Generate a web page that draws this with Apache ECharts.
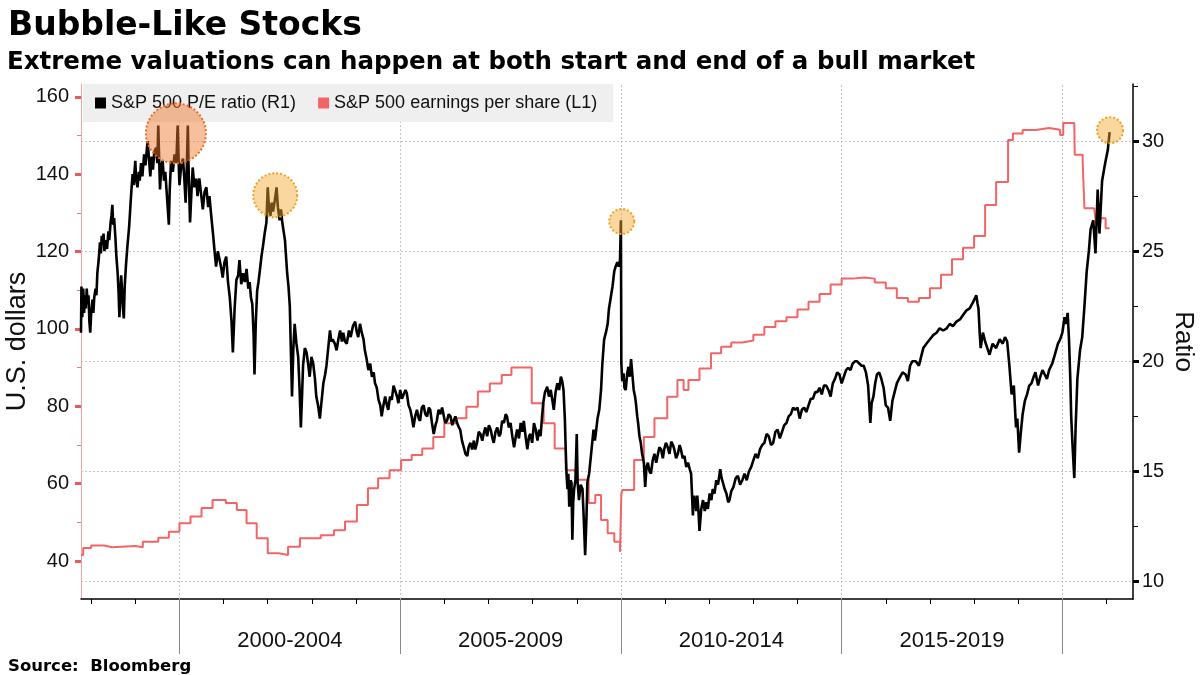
<!DOCTYPE html>
<html>
<head>
<meta charset="utf-8">
<script src="https://cdn.jsdelivr.net/npm/echarts@6/dist/echarts.min.js"></script>
<style>
html,body{margin:0;padding:0;background:#fff;}
#chart{width:1200px;height:675px;}
</style>
</head>
<body>
<div id="chart"></div>
<script>
// ---- Data (decimal year, value) ----
const titleText = 'Bubble-Like Stocks';
const subtitleText = 'Extreme valuations can happen at both start and end of a bull market';
const sourceText = 'Source:  Bloomberg';
const seriesNames = ['S&P 500 P/E ratio (R1)', 'S&P 500 earnings per share (L1)'];

const periodLabels = ['2000-2004', '2005-2009', '2010-2014', '2015-2019'];
const periodLabelAt = [2002.5, 2007.5, 2012.5, 2017.5];
const periodBounds = [2000, 2005, 2010, 2015, 2020];
const yearTicks = [1998,1999,2000,2001,2002,2003,2004,2005,2006,2007,2008,2009,2010,2011,2012,2013,2014,2015,2016,2017,2018,2019,2020,2021];

const leftTickLabels = [40, 60, 80, 100, 120, 140, 160];
const leftMinorTicks = [40, 50, 60, 70, 80, 90, 100, 110, 120, 130, 140, 150, 160];
const rightTickLabels = [10, 15, 20, 25, 30];
const rightMinorTicks = [10, 12.5, 15, 17.5, 20, 22.5, 25, 27.5, 30, 32.5];

// S&P 500 P/E ratio (right axis)
const peRatio = [
[1997.77,21.3],[1997.78,23.4],[1997.80,22.0],[1997.82,23.3],[1997.84,22.2],[1997.86,23.0],[1997.88,22.4],[1997.90,23.3],
[1997.92,22.6],[1997.94,23.0],[1997.96,21.8],[1997.98,21.3],[1998.00,22.2],[1998.03,22.8],[1998.05,22.2],[1998.07,22.9],
[1998.10,23.3],[1998.12,23.0],[1998.14,24.0],[1998.17,24.6],[1998.20,25.4],[1998.22,24.9],[1998.24,25.7],[1998.26,25.3],
[1998.28,25.8],[1998.30,25.0],[1998.33,25.5],[1998.36,25.1],[1998.39,25.9],[1998.41,25.5],[1998.44,26.3],[1998.46,26.6],
[1998.48,27.1],[1998.50,26.2],[1998.52,26.5],[1998.55,25.6],[1998.57,24.8],[1998.60,24.0],[1998.62,23.2],[1998.64,22.0],
[1998.66,23.0],[1998.68,23.9],[1998.70,23.2],[1998.72,22.4],[1998.74,21.95],[1998.76,23.4],[1998.79,24.4],[1998.82,25.2],
[1998.86,26.1],[1998.90,27.4],[1998.92,28.0],[1998.94,28.5],[1998.96,28.0],[1999.00,29.1],[1999.02,28.2],[1999.05,27.9],
[1999.08,28.6],[1999.10,28.2],[1999.13,29.0],[1999.16,28.4],[1999.20,29.4],[1999.23,28.9],[1999.26,29.6],[1999.28,30.0],
[1999.31,29.2],[1999.34,28.4],[1999.37,29.3],[1999.40,28.7],[1999.43,29.5],[1999.47,29.7],[1999.50,29.0],[1999.52,30.7],
[1999.54,29.2],[1999.56,27.8],[1999.59,28.9],[1999.62,29.1],[1999.65,28.2],[1999.68,28.6],[1999.72,27.4],[1999.76,26.2],
[1999.78,27.8],[1999.81,29.1],[1999.85,28.6],[1999.89,29.4],[1999.93,29.0],[1999.96,30.7],[1999.98,29.2],[2000.00,28.0],
[2000.04,28.9],[2000.08,29.2],[2000.11,28.3],[2000.14,27.2],[2000.17,29.0],[2000.19,30.7],[2000.21,28.5],[2000.24,26.3],
[2000.27,27.6],[2000.30,28.8],[2000.34,27.9],[2000.38,28.3],[2000.41,27.5],[2000.45,28.3],[2000.49,27.6],[2000.53,26.9],
[2000.57,27.7],[2000.61,27.9],[2000.65,27.0],[2000.68,27.5],[2000.72,26.6],[2000.76,25.8],[2000.80,24.9],[2000.83,24.3],
[2000.87,25.0],[2000.91,24.6],[2000.95,24.2],[2000.98,23.8],[2001.02,24.5],[2001.06,24.75],[2001.10,23.6],[2001.14,22.9],
[2001.18,21.8],[2001.21,20.4],[2001.25,22.4],[2001.29,23.7],[2001.33,23.9],[2001.36,24.6],[2001.40,23.5],[2001.44,24.0],
[2001.48,23.6],[2001.52,24.2],[2001.56,23.3],[2001.59,23.6],[2001.62,22.9],[2001.65,22.6],[2001.68,21.2],[2001.70,19.4],
[2001.73,21.8],[2001.76,23.2],[2001.79,23.6],[2001.82,24.1],[2001.86,24.8],[2001.89,25.2],[2001.93,25.8],[2001.97,26.3],
[2002.00,27.9],[2002.03,26.9],[2002.06,26.6],[2002.09,27.2],[2002.12,26.8],[2002.16,27.3],[2002.20,27.9],[2002.23,27.0],
[2002.27,26.4],[2002.30,26.9],[2002.33,26.3],[2002.36,25.9],[2002.39,25.5],[2002.42,24.6],[2002.44,24.0],[2002.47,23.4],
[2002.50,22.5],[2002.53,20.0],[2002.55,18.4],[2002.58,20.6],[2002.61,21.7],[2002.65,20.8],[2002.69,20.2],[2002.72,18.8],
[2002.75,17.0],[2002.78,18.6],[2002.80,19.8],[2002.84,20.6],[2002.88,20.4],[2002.92,19.8],[2002.95,19.3],[2002.99,20.2],
[2003.03,19.9],[2003.07,19.2],[2003.10,18.4],[2003.14,18.0],[2003.18,17.4],[2003.22,18.2],[2003.26,19.0],[2003.30,19.4],
[2003.33,19.8],[2003.37,20.6],[2003.41,21.4],[2003.44,20.9],[2003.47,21.0],[2003.52,20.8],[2003.56,20.5],[2003.60,21.0],
[2003.64,21.4],[2003.68,20.9],[2003.71,21.3],[2003.75,20.9],[2003.79,20.8],[2003.84,21.4],[2003.88,21.1],[2003.93,21.6],
[2003.98,21.8],[2004.02,21.3],[2004.05,21.1],[2004.09,21.7],[2004.13,21.3],[2004.17,21.0],[2004.20,20.5],[2004.24,20.1],
[2004.28,19.6],[2004.32,19.9],[2004.36,19.3],[2004.40,19.5],[2004.43,19.0],[2004.47,18.8],[2004.51,18.25],[2004.55,18.0],
[2004.58,17.5],[2004.62,18.0],[2004.66,18.4],[2004.70,18.0],[2004.73,17.8],[2004.77,18.4],[2004.81,18.25],[2004.85,18.9],
[2004.89,18.85],[2004.93,18.4],[2004.96,18.1],[2005.00,18.7],[2005.04,18.3],[2005.08,18.25],[2005.12,18.7],[2005.15,18.55],
[2005.19,18.0],[2005.23,17.8],[2005.27,17.4],[2005.30,17.0],[2005.34,17.5],[2005.38,17.8],[2005.42,17.4],[2005.45,17.3],
[2005.49,17.9],[2005.53,18.0],[2005.57,17.6],[2005.61,17.5],[2005.65,17.9],[2005.68,17.8],[2005.72,17.2],[2005.76,16.7],
[2005.80,17.1],[2005.83,17.3],[2005.87,17.8],[2005.91,17.6],[2005.95,17.9],[2005.98,17.6],[2006.02,17.2],[2006.06,17.3],
[2006.10,17.6],[2006.14,17.5],[2006.18,17.1],[2006.21,17.3],[2006.25,17.5],[2006.29,17.2],[2006.33,17.0],[2006.36,16.9],
[2006.40,16.4],[2006.44,16.1],[2006.48,15.8],[2006.52,15.7],[2006.55,16.1],[2006.59,16.3],[2006.63,16.0],[2006.67,16.4],
[2006.70,16.0],[2006.74,16.3],[2006.78,16.8],[2006.82,16.7],[2006.86,16.4],[2006.89,16.7],[2006.93,17.0],[2006.97,16.6],
[2007.01,17.1],[2007.05,16.9],[2007.09,16.5],[2007.12,16.3],[2007.16,16.8],[2007.20,17.0],[2007.24,16.6],[2007.27,16.7],
[2007.31,17.3],[2007.35,17.2],[2007.39,17.6],[2007.42,17.5],[2007.46,17.0],[2007.50,17.2],[2007.54,16.6],[2007.58,16.1],
[2007.62,16.6],[2007.65,16.9],[2007.69,16.5],[2007.73,17.2],[2007.77,16.8],[2007.80,17.3],[2007.84,16.6],[2007.88,16.0],
[2007.92,16.6],[2007.95,16.7],[2007.99,16.3],[2008.03,17.2],[2008.07,16.9],[2008.11,16.4],[2008.15,16.9],[2008.18,16.6],
[2008.21,17.4],[2008.24,18.1],[2008.28,18.6],[2008.33,18.85],[2008.37,18.4],[2008.41,18.7],[2008.45,18.2],[2008.48,17.8],
[2008.52,18.6],[2008.56,19.0],[2008.60,18.7],[2008.64,19.3],[2008.67,19.1],[2008.70,18.7],[2008.73,17.4],[2008.75,16.0],
[2008.77,14.8],[2008.79,14.2],[2008.81,14.9],[2008.83,13.4],[2008.86,14.6],[2008.88,14.5],[2008.90,11.9],[2008.92,13.6],
[2008.94,14.2],[2008.97,14.6],[2009.00,16.7],[2009.02,14.5],[2009.05,13.7],[2009.09,14.4],[2009.13,14.2],[2009.16,12.8],
[2009.19,11.2],[2009.22,12.9],[2009.24,14.5],[2009.28,14.9],[2009.32,15.7],[2009.35,16.3],[2009.38,16.9],[2009.41,16.4],
[2009.43,16.7],[2009.47,17.4],[2009.51,17.8],[2009.55,18.7],[2009.58,19.9],[2009.62,21.0],[2009.66,21.3],[2009.70,21.7],
[2009.73,22.4],[2009.77,22.9],[2009.81,23.4],[2009.85,24.1],[2009.88,24.3],[2009.92,24.5],[2009.95,24.3],[2009.98,24.6],
[2010.00,26.4],[2010.01,19.9],[2010.03,19.1],[2010.06,19.45],[2010.08,18.8],[2010.11,18.7],[2010.14,19.4],[2010.17,19.75],
[2010.20,19.3],[2010.23,20.1],[2010.26,19.4],[2010.29,18.7],[2010.32,18.4],[2010.34,18.1],[2010.37,17.5],[2010.39,17.2],
[2010.42,16.6],[2010.45,16.3],[2010.48,15.8],[2010.52,15.4],[2010.55,14.3],[2010.58,15.2],[2010.61,15.4],[2010.65,15.0],
[2010.68,14.9],[2010.72,15.5],[2010.76,15.8],[2010.80,15.4],[2010.83,15.7],[2010.87,16.1],[2010.91,16.0],[2010.95,15.6],
[2010.98,16.0],[2011.02,16.3],[2011.06,16.1],[2011.10,15.8],[2011.14,16.35],[2011.18,16.2],[2011.21,16.0],[2011.25,15.6],
[2011.29,15.8],[2011.33,16.2],[2011.36,16.0],[2011.40,15.6],[2011.44,15.7],[2011.48,15.2],[2011.52,15.4],[2011.56,15.1],
[2011.59,14.9],[2011.61,14.0],[2011.63,13.0],[2011.66,13.9],[2011.68,13.6],[2011.71,13.2],[2011.73,13.9],[2011.76,13.1],
[2011.78,12.3],[2011.82,13.3],[2011.86,13.7],[2011.90,13.2],[2011.93,13.6],[2011.97,13.3],[2012.01,14.0],[2012.05,13.7],
[2012.08,14.2],[2012.12,14.0],[2012.16,14.6],[2012.20,14.4],[2012.25,15.1],[2012.28,14.7],[2012.31,14.5],[2012.35,14.2],
[2012.39,14.0],[2012.43,13.6],[2012.46,13.7],[2012.50,14.1],[2012.55,14.3],[2012.60,14.7],[2012.65,14.8],[2012.70,14.4],
[2012.75,14.6],[2012.80,14.9],[2012.85,14.6],[2012.90,15.0],[2012.95,15.2],[2013.00,15.5],[2013.05,15.8],[2013.10,15.6],
[2013.15,16.0],[2013.20,16.2],[2013.25,16.3],[2013.30,16.7],[2013.35,16.6],[2013.40,16.2],[2013.45,16.3],[2013.50,16.8],
[2013.55,16.9],[2013.60,16.5],[2013.65,16.8],[2013.70,17.1],[2013.75,17.2],[2013.80,17.5],[2013.85,17.6],[2013.90,17.9],
[2013.95,17.8],[2014.00,17.9],[2014.05,17.4],[2014.10,17.8],[2014.15,17.9],[2014.20,17.7],[2014.25,18.0],[2014.30,18.3],
[2014.35,18.3],[2014.40,18.6],[2014.45,18.6],[2014.50,18.8],[2014.55,18.5],[2014.60,18.9],[2014.65,18.9],[2014.70,18.7],
[2014.75,18.4],[2014.80,19.0],[2014.85,19.2],[2014.90,19.5],[2014.95,19.4],[2015.00,19.0],[2015.05,19.3],[2015.10,19.6],
[2015.15,19.7],[2015.20,19.6],[2015.25,19.9],[2015.30,20.0],[2015.35,20.0],[2015.40,19.9],[2015.45,19.8],[2015.50,19.8],
[2015.55,19.5],[2015.60,18.9],[2015.65,17.2],[2015.68,18.1],[2015.72,18.4],[2015.76,19.0],[2015.80,19.4],[2015.85,19.5],
[2015.90,19.2],[2015.95,18.8],[2016.00,18.0],[2016.05,17.9],[2016.10,17.3],[2016.15,18.2],[2016.20,18.6],[2016.25,19.0],
[2016.30,19.2],[2016.38,19.5],[2016.45,19.4],[2016.50,19.1],[2016.55,19.8],[2016.60,20.0],[2016.68,20.0],[2016.75,19.8],
[2016.80,20.2],[2016.85,20.6],[2016.92,20.8],[2017.00,21.0],[2017.08,21.2],[2017.15,21.3],[2017.22,21.5],[2017.30,21.4],
[2017.38,21.5],[2017.45,21.7],[2017.52,21.6],[2017.60,21.8],[2017.68,21.9],[2017.75,22.1],[2017.82,22.3],[2017.90,22.4],
[2017.98,22.7],[2018.05,23.0],[2018.08,22.6],[2018.10,22.4],[2018.13,21.2],[2018.15,20.6],[2018.20,21.3],[2018.25,20.9],
[2018.30,20.6],[2018.35,20.3],[2018.42,20.8],[2018.50,20.6],[2018.58,21.0],[2018.65,20.8],[2018.70,21.1],[2018.75,20.9],
[2018.80,19.8],[2018.85,18.5],[2018.90,18.9],[2018.95,17.0],[2018.98,17.4],[2019.02,15.85],[2019.06,16.8],[2019.10,17.6],
[2019.15,18.2],[2019.20,18.5],[2019.25,18.9],[2019.30,19.0],[2019.35,19.3],[2019.39,19.5],[2019.42,19.2],[2019.45,18.9],
[2019.50,19.3],[2019.55,19.6],[2019.60,19.4],[2019.65,19.2],[2019.70,19.6],[2019.77,19.9],[2019.83,20.3],[2019.90,20.8],
[2019.95,21.0],[2020.00,21.3],[2020.05,22.0],[2020.08,21.7],[2020.12,22.2],[2020.15,21.0],[2020.18,19.2],[2020.20,17.5],
[2020.23,16.2],[2020.27,14.7],[2020.30,17.0],[2020.34,19.2],[2020.40,20.5],[2020.45,21.1],[2020.50,22.5],[2020.55,24.05],
[2020.60,25.0],[2020.64,26.0],[2020.70,26.4],[2020.75,24.9],[2020.80,27.8],[2020.84,25.8],[2020.90,28.2],[2020.97,29.0],
[2021.03,29.6],[2021.07,30.4]
];

// S&P 500 earnings per share (left axis), value holds until the next point
const epsValues = [
[1997.77,41.6],[1997.82,43.4],[1998.00,44.0],[1998.30,43.6],[1998.47,43.9],[1999.00,43.6],[1999.17,45.0],
[1999.52,46.0],[1999.76,47.6],[2000.00,49.8],[2000.25,51.5],[2000.50,53.7],[2000.75,55.8],[2001.05,55.0],
[2001.30,53.2],[2001.52,49.8],[2001.75,45.9],[2002.00,42.0],[2002.25,41.6],[2002.46,43.7],[2002.73,45.9],
[2003.20,46.7],[2003.50,48.0],[2003.75,50.2],[2004.02,54.5],[2004.27,58.8],[2004.50,61.4],[2004.76,63.5],
[2005.02,66.1],[2005.26,67.4],[2005.50,69.1],[2005.75,72.1],[2006.00,75.6],[2006.27,76.9],[2006.50,79.9],
[2006.76,83.8],[2007.03,85.9],[2007.30,88.1],[2007.52,90.0],[2007.98,80.8],[2008.25,75.6],[2008.50,69.1],
[2008.75,63.5],[2009.00,61.0],[2009.27,55.0],[2009.42,57.1],[2009.55,50.6],[2009.70,47.2],[2009.85,45.0],
[2009.98,42.4],[2010.01,57.5],[2010.04,58.4],[2010.30,66.1],[2010.52,72.1],[2010.76,76.9],[2011.05,82.5],
[2011.28,86.8],[2011.42,84.2],[2011.53,86.8],[2011.78,89.8],[2012.04,93.7],[2012.27,95.4],[2012.50,96.5],
[2012.75,97.0],[2013.00,98.5],[2013.25,100.5],[2013.50,102.0],[2013.75,103.0],[2014.00,105.0],[2014.25,107.0],
[2014.50,109.0],[2014.75,111.5],[2015.00,113.0],[2015.25,113.3],[2015.50,113.0],[2015.75,112.0],[2016.00,110.5],
[2016.25,108.0],[2016.50,107.0],[2016.75,108.0],[2017.00,110.5],[2017.25,114.0],[2017.50,118.0],[2017.75,121.0],
[2018.00,124.0],[2018.25,132.0],[2018.50,138.0],[2018.77,148.8],[2018.88,150.5],[2019.10,151.4],[2019.40,151.9],
[2019.70,151.5],[2019.95,150.1],[2020.02,153.2],[2020.27,152.7],[2020.28,145.0],[2020.46,143.1],[2020.50,131.2],
[2020.72,130.7],[2020.76,127.4],[2020.86,128.6],[2020.98,126.0],[2021.07,126.0]
];

// Highlighted valuation peaks
const peakYears = [1999.92, 2002.17, 2010.02, 2021.08];
const peakValues = [30.35, 27.54, 26.35, 30.49];
const peakSizes = [60, 44, 25, 26];

// ---- Chart ----
const FONT = '"Liberation Sans", Arial, sans-serif';
const BOLD = '"DejaVu Sans", Verdana, sans-serif';
const chart = echarts.init(document.getElementById('chart'), null, {renderer: 'canvas'});

const xMin = 1997.77, xMax = 2021.6;

const markPts = peakYears.map((y, i) => {
  const big = i === 0;
  return {
    coord: [y, peakValues[i]],
    symbol: 'circle',
    symbolSize: peakSizes[i],
    itemStyle: {
      color: big ? 'rgba(239,120,43,0.47)' : 'rgba(245,168,45,0.46)',
      borderColor: big ? '#ee6a1f' : '#f2a021',
      borderWidth: 2,
      borderType: [2, 2]
    }
  };
});

const gridLines = rightTickLabels.map(v => ({yAxis: v}))
  .concat(periodBounds.map(v => ({xAxis: v})));

const option = {
  animation: false,
  backgroundColor: '#ffffff',
  title: [
    {text: titleText, left: 3, top: 5,
     textStyle: {fontFamily: BOLD, fontWeight: 'bold', fontSize: 33, color: '#000'}},
    {text: subtitleText, left: 2, top: 45,
     textStyle: {fontFamily: BOLD, fontWeight: 'bold', fontSize: 24.5, color: '#000'}},
    {text: sourceText, left: 3, top: 653,
     textStyle: {fontFamily: BOLD, fontWeight: 'bold', fontSize: 16.5, color: '#000'}}
  ],
  legend: {
    left: 83, top: 84,
    backgroundColor: '#efefef',
    padding: [10, 16, 10, 12],
    itemGap: 22,
    itemWidth: 11, itemHeight: 11,
    icon: 'rect',
    textStyle: {fontFamily: FONT, fontSize: 18, color: '#111'},
    data: [
      {name: seriesNames[0], itemStyle: {color: '#000'}},
      {name: seriesNames[1], itemStyle: {color: '#f36466'}}
    ]
  },
  grid: {left: 81, right: 67, top: 84, bottom: 76, outerBoundsMode: 'none', containLabel: false},
  xAxis: [
    {
      type: 'value', min: xMin, max: xMax, position: 'bottom',
      axisLine: {show: true, lineStyle: {color: '#000', width: 1.5}},
      axisTick: {show: true, customValues: yearTicks, length: 5, lineStyle: {color: '#000'}},
      axisLabel: {show: false},
      splitLine: {show: false}
    },
    {
      type: 'value', min: xMin, max: xMax, position: 'bottom',
      axisLine: {show: false},
      axisTick: {show: true, customValues: periodBounds, length: 55, lineStyle: {color: '#8a8a8a'}},
      axisLabel: {
        show: true, customValues: periodLabelAt, margin: 31,
        fontFamily: FONT, fontSize: 22, color: '#111',
        formatter: v => periodLabels[periodLabelAt.indexOf(v)] || ''
      },
      splitLine: {show: false}
    }
  ],
  yAxis: [
    {
      type: 'value', min: 30.2, max: 163.3, position: 'left',
      name: 'U.S. dollars', nameLocation: 'middle', nameGap: 50, nameMoveOverlap: false,
      nameTextStyle: {fontFamily: FONT, fontSize: 27, color: '#111'},
      axisLine: {show: true, lineStyle: {color: '#f4a3a3', width: 1}},
      axisTick: {show: true, customValues: leftMinorTicks, length: 4, lineStyle: {color: '#ef7b7b'}},
      axisLabel: {show: true, customValues: leftTickLabels, margin: 12,
        fontFamily: FONT, fontSize: 20, color: '#111'},
      splitLine: {show: false}
    },
    {
      type: 'value', min: 9.21, max: 32.59, position: 'right',
      name: 'Ratio', nameLocation: 'middle', nameGap: 37, nameRotate: -90, nameMoveOverlap: false,
      nameTextStyle: {fontFamily: FONT, fontSize: 26, color: '#111'},
      axisLine: {show: true, lineStyle: {color: '#000', width: 1.5}},
      axisTick: {show: true, customValues: rightMinorTicks, length: 5, lineStyle: {color: '#000'}},
      axisLabel: {show: true, customValues: rightTickLabels, margin: 9,
        fontFamily: FONT, fontSize: 20, color: '#111'},
      splitLine: {show: false}
    },
    {
      type: 'value', min: 30.2, max: 163.3, position: 'left',
      axisLine: {show: false},
      axisTick: {show: true, customValues: leftTickLabels, length: 6, lineStyle: {color: '#e85a5c', width: 3}},
      axisLabel: {show: false}, splitLine: {show: false}
    },
    {
      type: 'value', min: 9.21, max: 32.59, position: 'right',
      axisLine: {show: false},
      axisTick: {show: true, customValues: rightTickLabels, length: 6, lineStyle: {color: '#000', width: 3}},
      axisLabel: {show: false}, splitLine: {show: false}
    }
  ],
  series: [
    {
      name: seriesNames[1], type: 'line', xAxisIndex: 0, yAxisIndex: 0,
      data: epsValues, step: 'end', showSymbol: false, symbol: 'none',
      lineStyle: {color: '#f36466', width: 2}, itemStyle: {color: '#f36466'},
      z: 2
    },
    {
      name: seriesNames[0], type: 'line', xAxisIndex: 0, yAxisIndex: 1,
      data: peRatio, showSymbol: false, symbol: 'none',
      lineStyle: {color: '#000', width: 2.6}, itemStyle: {color: '#000'},
      z: 3,
      markLine: {
        silent: true, symbol: ['none', 'none'], z: 1,
        label: {show: false},
        lineStyle: {color: '#c4c4c4', width: 1, type: [2, 2]},
        emphasis: {disabled: true},
        data: gridLines
      },
      markPoint: {
        silent: true, z: 6,
        label: {show: false},
        data: markPts
      }
    }
  ]
};
chart.setOption(option);
</script>
</body>
</html>
